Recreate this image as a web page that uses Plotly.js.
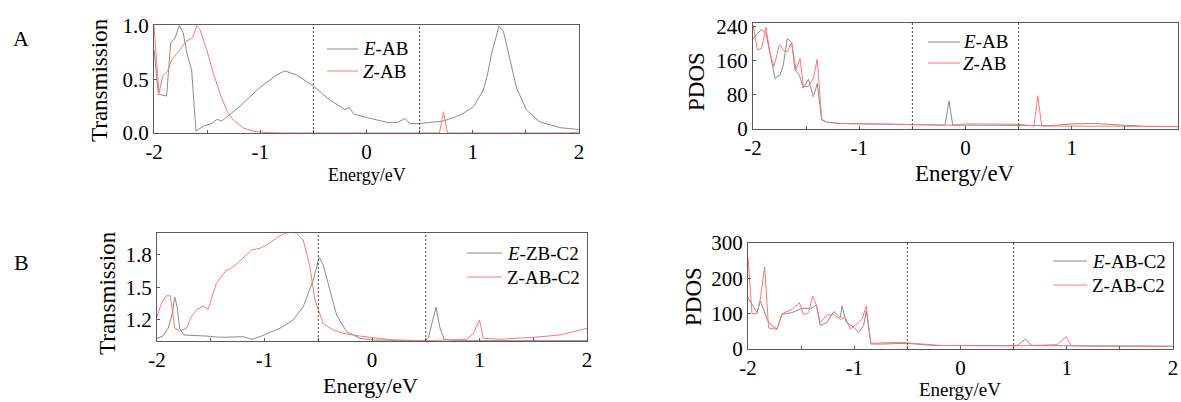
<!DOCTYPE html>
<html>
<head>
<meta charset="utf-8">
<script src="https://cdn.plot.ly/plotly-3.0.1.min.js"></script>
<style>html,body{margin:0;padding:0;background:#fff;}#chart{width:1181px;height:402px;}</style>
</head>
<body>
<div id="chart"></div>
<script>
// ---------- Data ----------
// Panel A: Transmission, E-AB / Z-AB
const tA_E_x = [-2, -1.959, -1.881, -1.843, -1.802, -1.762, -1.725, -1.687, -1.646, -1.605, -1.536, -1.458, -1.405, -1.364, -1.191, -1.002, -0.845, -0.769, -0.659, -0.5, -0.344, -0.203, -0.163, -0.118, 0.0, 0.205, 0.289, 0.362, 0.41, 0.504, 0.724, 0.881, 1.007, 1.1, 1.14, 1.178, 1.247, 1.288, 1.351, 1.413, 1.507, 1.633, 1.821, 2.0];
const tA_E_y = [0.78, 0.36, 0.344, 0.838, 0.885, 1.0, 0.93, 0.728, 0.588, 0.016, 0.063, 0.088, 0.128, 0.11, 0.25, 0.425, 0.54, 0.578, 0.54, 0.437, 0.306, 0.219, 0.238, 0.175, 0.144, 0.097, 0.097, 0.135, 0.088, 0.088, 0.112, 0.166, 0.244, 0.4, 0.55, 0.744, 0.994, 0.947, 0.681, 0.416, 0.213, 0.103, 0.05, 0.032];
const tA_Z_x = [-2, -1.953, -1.918, -1.874, -1.834, -1.755, -1.699, -1.636, -1.598, -1.567, -1.504, -1.442, -1.379, -1.316, -1.253, -1.159, -1.065, -0.94, -0.78, 0.0, 0.687, 0.724, 0.762, 1.9, 2.0];
const tA_Z_y = [1.0, 0.369, 0.531, 0.572, 0.681, 0.775, 0.853, 0.885, 1.0, 0.962, 0.775, 0.557, 0.369, 0.213, 0.119, 0.047, 0.016, 0.004, 0.0, 0.0, 0.0, 0.197, 0.0, 0.0, 0.01];

// Panel A right: PDOS, E-AB / Z-AB
const pA_E_x = [-2, -1.959, -1.918, -1.878, -1.84, -1.793, -1.746, -1.715, -1.677, -1.636, -1.605, -1.564, -1.526, -1.479, -1.432, -1.395, -1.353, -1.306, -1.18, -0.8, -0.5, -0.193, -0.155, -0.12, 0.2, 0.5, 0.8, 1.015, 1.203, 1.485, 1.7, 2.0];
const pA_E_y = [211, 225, 234, 225, 178, 119, 127, 150, 213, 203, 139, 127, 96, 117, 76, 107, 21, 16, 13, 12, 11, 9, 66, 9, 9, 9, 8, 12, 13, 9, 6, 5.5];
const pA_Z_x = [-2, -1.959, -1.918, -1.878, -1.84, -1.802, -1.752, -1.699, -1.677, -1.636, -1.595, -1.557, -1.526, -1.479, -1.432, -1.395, -1.353, -1.306, -1.18, -0.8, -0.5, -0.12, 0.0, 0.5, 0.645, 0.68, 0.717, 1.0, 1.5, 2.0];
const pA_Z_y = [245, 186, 190, 239, 178, 147, 198, 182, 182, 203, 139, 166, 100, 100, 119, 164, 23, 16, 13, 12, 11, 9, 12, 11, 7, 78, 7, 7, 6, 6];

// Panel B: Transmission, E-ZB-C2 / Z-AB-C2
const tB_E_x = [-2, -1.944, -1.897, -1.857, -1.835, -1.813, -1.789, -1.751, -1.54, -1.416, -1.199, -1.12, -1.043, -0.857, -0.733, -0.64, -0.547, -0.491, -0.454, -0.391, -0.329, -0.236, -0.112, 0.012, 0.494, 0.525, 0.596, 0.633, 0.671, 0.789, 2.0];
const tB_E_y = [1.025, 1.046, 1.118, 1.257, 1.41, 1.318, 1.118, 1.056, 1.046, 1.034, 1.04, 1.016, 1.04, 1.118, 1.195, 1.318, 1.566, 1.777, 1.706, 1.473, 1.241, 1.086, 1.025, 1.009, 1.003, 1.034, 1.313, 1.118, 1.016, 1.003, 1.003];
const tB_Z_x = [-2, -1.959, -1.913, -1.876, -1.835, -1.789, -1.726, -1.68, -1.633, -1.571, -1.525, -1.447, -1.354, -1.323, -1.26, -1.199, -1.12, -1.043, -0.981, -0.888, -0.826, -0.764, -0.702, -0.64, -0.578, -0.531, -0.491, -0.454, -0.36, -0.267, -0.112, 0.012, 0.199, 0.494, 0.882, 0.944, 1.0, 1.037, 1.193, 1.503, 1.751, 2.0];
const tB_Z_y = [1.226, 1.35, 1.42, 1.42, 1.118, 1.093, 1.118, 1.226, 1.288, 1.325, 1.294, 1.536, 1.659, 1.665, 1.715, 1.768, 1.845, 1.86, 1.891, 1.954, 1.994, 2.01, 2.0, 1.938, 1.69, 1.38, 1.257, 1.164, 1.102, 1.071, 1.046, 1.034, 1.009, 1.003, 1.016, 1.071, 1.195, 1.025, 1.016, 1.034, 1.056, 1.118];

// Panel B right: PDOS, E-AB-C2 / Z-AB-C2
const pB_E_x = [-2, -1.915, -1.884, -1.815, -1.774, -1.727, -1.68, -1.586, -1.492, -1.407, -1.357, -1.32, -1.257, -1.194, -1.131, -1.115, -1.074, -1.021, -0.959, -0.912, -0.887, -0.843, -0.755, -0.504, -0.253, 0.532, 0.61, 0.673, 2.0];
const pB_E_y = [145, 103, 136, 80, 66, 56, 98, 103, 115, 115, 125, 67, 75, 106, 89, 122, 75, 66, 47, 66, 108, 14, 14, 16, 10, 9.5, 28, 9.5, 8];
const pB_Z_x = [-2, -1.962, -1.915, -1.884, -1.843, -1.806, -1.727, -1.68, -1.586, -1.517, -1.477, -1.43, -1.392, -1.357, -1.32, -1.257, -1.194, -1.131, -1.084, -1.037, -0.959, -0.927, -0.887, -0.843, -0.567, -0.378, -0.19, 0.5, 0.908, 0.996, 1.04, 1.2, 2.0];
const pB_Z_y = [260, 100, 100, 141, 232, 59, 56, 100, 112, 131, 97, 103, 150, 125, 75, 97, 97, 84, 89, 56, 75, 84, 122, 16, 19, 14, 10, 9, 12, 35, 9.5, 8, 7];

const xTicks = [-2, -1, 0, 1, 2];
const xTickText = ['-2', '-1', '0', '1', '2'];
const fermiWindow = [-0.5, 0.5];
const ticksA = [0, 0.5, 1.0];
const ticksAText = ['0.0', '0.5', '1.0'];
const ticksC = [0, 80, 160, 240];
const ticksB = [1.2, 1.5, 1.8];
const ticksBText = ['1.2', '1.5', '1.8'];
const ticksD = [0, 100, 200, 300];

// legend labels per panel: [gray, red]
const legA = ['<i>E</i>-AB', '<i>Z</i>-AB'];
const legC = ['<i>E</i>-AB', '<i>Z</i>-AB'];
const legB = ['<i>E</i>-ZB-C2', 'Z-AB-C2'];
const legD = ['<i>E</i>-AB-C2', 'Z-AB-C2'];

// ---------- Styling ----------
const FONT = "'Liberation Serif', 'Times New Roman', Times, serif";
const GRAY = 'rgb(140,140,140)';
const RED = 'rgb(255,118,118)';
const FRAME = '#5a5a5a';
const W = 1181, H = 402;
const px = v => v / W;
const py = v => 1 - v / H;

function tr(x, y, name, color, xa, ya) {
  return {x: x, y: y, name: name, type: 'scatter', mode: 'lines', showlegend: false,
    line: {color: color, width: 1}, xaxis: xa, yaxis: ya, hoverinfo: 'skip'};
}

const data = [
  tr(tA_E_x, tA_E_y, legA[0], GRAY, 'x', 'y'),
  tr(tA_Z_x, tA_Z_y, legA[1], RED, 'x', 'y'),
  tr(pA_E_x, pA_E_y, legC[0], GRAY, 'x2', 'y2'),
  tr(pA_Z_x, pA_Z_y, legC[1], RED, 'x2', 'y2'),
  tr(tB_E_x, tB_E_y, legB[0], GRAY, 'x3', 'y3'),
  tr(tB_Z_x, tB_Z_y, legB[1], RED, 'x3', 'y3'),
  tr(pB_E_x, pB_E_y, legD[0], GRAY, 'x4', 'y4'),
  tr(pB_Z_x, pB_Z_y, legD[1], RED, 'x4', 'y4')
];

function xAxis(dom, anchor) {
  return {domain: dom, anchor: anchor, range: [-2, 2], tickvals: xTicks, ticktext: xTickText,
    ticks: 'inside', ticklen: 3, tickcolor: FRAME, showline: true, linecolor: FRAME, linewidth: 1,
    mirror: true, showgrid: false, zeroline: false, tickfont: {family: FONT, size: 21, color: '#000'},
    minor: {dtick: 0.5, tick0: -2, ticks: 'inside', ticklen: 3, tickcolor: FRAME, showgrid: false}};
}
function yAxis(dom, anchor, range, vals, text) {
  const a = {domain: dom, anchor: anchor, range: range, tickvals: vals,
    ticks: 'inside', ticklen: 3, tickcolor: FRAME, showline: true, linecolor: FRAME, linewidth: 1,
    mirror: true, showgrid: false, zeroline: false, tickfont: {family: FONT, size: 21, color: '#000'}};
  if (text) a.ticktext = text;
  return a;
}

function vline(xv, xa, ya) {
  return {type: 'line', xref: xa, yref: ya + ' domain', x0: xv, x1: xv, y0: 0, y1: 1,
    line: {color: '#444', width: 1, dash: '2px,2px'}};
}
const shapes = [];
[['x', 'y'], ['x2', 'y2'], ['x3', 'y3'], ['x4', 'y4']].forEach(p => {
  fermiWindow.forEach(v => shapes.push(vline(v, p[0], p[1])));
});

function ann(text, x, y, size, angle, anchor) {
  return {text: text, xref: 'paper', yref: 'paper', x: px(x), y: py(y), xanchor: anchor || 'center', yanchor: 'middle',
    showarrow: false, textangle: angle || 0, font: {family: FONT, size: size, color: '#000'}};
}
const annotations = [
  ann('A', 21, 38, 22), ann('B', 21, 262, 22),
  ann('Transmission', 99, 80, 23, -90), ann('Energy/eV', 367, 175, 18),
  ann('PDOS', 697, 82, 23, -90), ann('Energy/eV', 965, 173, 23),
  ann('Transmission', 107, 293, 23, -90), ann('Energy/eV', 371, 385, 22),
  ann('PDOS', 693, 297, 23, -90), ann('Energy/eV', 960, 389.5, 19)
];

// manual legends: line sample + label
function addLegend(labels, x0, x1, xt, y1, y2, size) {
  [[labels[0], GRAY, y1], [labels[1], RED, y2]].forEach(it => {
    shapes.push({type: 'line', xref: 'paper', yref: 'paper', x0: px(x0), x1: px(x1), y0: py(it[2]), y1: py(it[2]),
      line: {color: it[1], width: 1}});
    annotations.push(ann(it[0], xt, it[2], size, 0, 'left'));
  });
}
addLegend(legA, 327, 358, 361, 49, 71, 19);
addLegend(legC, 928, 960, 961, 42, 63, 19);
addLegend(legB, 467, 502, 505, 253, 277, 19);
addLegend(legD, 1053, 1087, 1090, 261, 285, 19);

const layout = {
  width: W, height: H, margin: {l: 0, r: 0, t: 0, b: 0},
  paper_bgcolor: '#fff', plot_bgcolor: '#fff', showlegend: false,
  font: {family: FONT, color: '#000'},
  xaxis: xAxis([px(154), px(579)], 'y'),
  yaxis: yAxis([py(133), py(25)], 'x', [0, 1.005], ticksA, ticksAText),
  xaxis2: xAxis([px(753), px(1178)], 'y2'),
  yaxis2: yAxis([py(129), py(22.7)], 'x2', [0, 250], ticksC),
  xaxis3: xAxis([px(157), px(587)], 'y3'),
  yaxis3: yAxis([py(341), py(233.3)], 'x3', [1.0, 2.0], ticksB, ticksBText),
  xaxis4: xAxis([px(748), px(1173)], 'y4'),
  yaxis4: yAxis([py(349), py(243)], 'x4', [0, 300], ticksD),
  shapes: shapes,
  annotations: annotations
};

Plotly.newPlot('chart', data, layout, {staticPlot: true, displayModeBar: false});
</script>
</body>
</html>
